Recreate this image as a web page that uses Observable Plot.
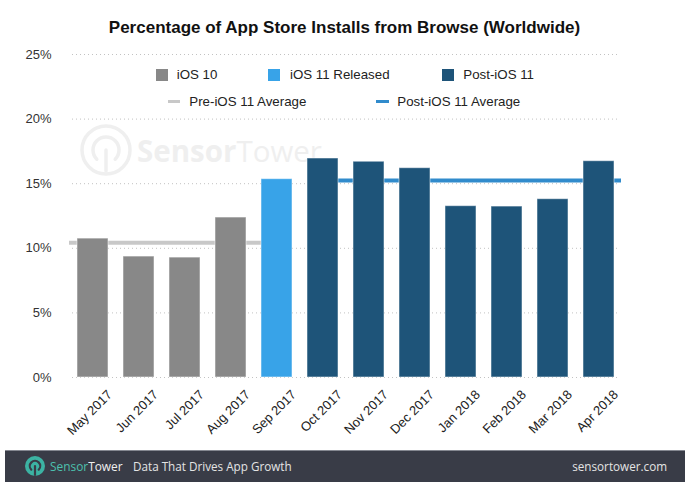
<!DOCTYPE html>
<html><head><meta charset="utf-8">
<script src="https://cdn.jsdelivr.net/npm/d3@7"></script>
<script src="https://cdn.jsdelivr.net/npm/@observablehq/plot@0.6"></script>
<style>
body{margin:0;background:#fff;font-family:"Liberation Sans",Arial,sans-serif;}
#wrap{position:relative;width:697px;height:491px;overflow:hidden;background:#fff;}
#title{position:relative;height:44px;}
#title span{position:absolute;left:0;width:689px;text-align:center;top:19px;font-size:17px;line-height:17px;font-weight:bold;color:#111;white-space:nowrap;}
#chart{position:relative;z-index:2;}
#watermark{position:absolute;left:0;top:0;z-index:1;}
#legend{position:absolute;left:0;top:0;z-index:3;font-size:13.3px;color:#222;}
#legend .it{position:absolute;white-space:nowrap;line-height:14px;}
#legend .sw{position:absolute;}
#footer{position:absolute;left:5px;top:450px;width:680px;height:31px;background:#393c47;border-top:1px solid #858891;font-family:"Open Sans",sans-serif;font-size:11.7px;color:#e4e4e4;}
#footer .t{position:absolute;top:7px;line-height:16px;white-space:nowrap;}
</style></head><body>
<div id="wrap">
  <div id="title"><span>Percentage of App Store Installs from Browse (Worldwide)</span></div>
  <svg id="watermark" width="697" height="491">
    <g fill="none" stroke="#efefef" stroke-width="3.5" stroke-linecap="round">
      <circle cx="106" cy="150" r="24"></circle>
      <path d="M96.8,159.2 A13,13 0 1 1 115.2,159.2"></path>
      <line x1="106" y1="150" x2="106" y2="171"></line>
    </g>
    <text x="137" y="162" font-family="Open Sans" font-size="29.5" fill="#efefef"><tspan font-weight="700">Sensor</tspan><tspan font-weight="400">Tower</tspan></text>
  </svg>
  <div id="chart"></div>
  <div id="legend"></div>
  <div id="footer">
    <svg width="680" height="31" style="position:absolute;left:0;top:0">
      <circle cx="30" cy="15" r="10" fill="#3cb3a3"></circle>
      <g fill="none" stroke="#393c47" stroke-width="2.2" stroke-linecap="round">
        <path d="M26.3,18.7 A5.2,5.2 0 1 1 33.7,18.7"></path>
        <line x1="30" y1="15" x2="30" y2="24"></line>
      </g>
    </svg>
    <span class="t" style="left:45px;font-size:11.9px"><span style="color:#4cc0ae">Sensor</span><span style="color:#f0f0f0">Tower</span></span>
    <span class="t" style="left:128px">Data That Drives App Growth</span>
    <span class="t" style="right:18px">sensortower.com</span>
  </div>
</div>
<script>
// ---- data ----
const months = ["May 2017","Jun 2017","Jul 2017","Aug 2017","Sep 2017","Oct 2017","Nov 2017","Dec 2017","Jan 2018","Feb 2018","Mar 2018","Apr 2018"];
const values = [10.75, 9.36, 9.28, 12.38, 15.35, 16.95, 16.7, 16.2, 13.26, 13.23, 13.8, 16.74];
const phases = ["iOS 10","iOS 10","iOS 10","iOS 10","iOS 11 Released","Post-iOS 11","Post-iOS 11","Post-iOS 11","Post-iOS 11","Post-iOS 11","Post-iOS 11","Post-iOS 11"];
const phaseNames = ["iOS 10","iOS 11 Released","Post-iOS 11"];
const phaseColors = ["#888888","#38a3e8","#1e5479"];
const avgNames = ["Pre-iOS 11 Average","Post-iOS 11 Average"];
const avgValues = [10.42, 15.25];
const avgFrom = ["May 2017","Oct 2017"];
const avgTo = ["Sep 2017","Apr 2018"];
const avgColors = ["#c8c8c8","#318bcc"];
const yTicks = [0, 5, 10, 15, 20, 25];

const data = months.map((m, i) => ({month: m, value: values[i], phase: phases[i]}));
const avgs = avgNames.map((n, i) => ({name: n, value: avgValues[i], from: avgFrom[i], to: avgTo[i]}));

const plot = Plot.plot({
  width: 697,
  height: 406,
  marginTop: 10,
  marginBottom: 73,
  marginLeft: 72,
  marginRight: 78,
  style: {fontFamily: "'Liberation Sans', Arial, sans-serif", color: "#222", background: "transparent"},
  x: {domain: months, paddingInner: 0.33, paddingOuter: 0.1, label: null},
  y: {domain: [0, 25], label: null},
  color: {domain: phaseNames, range: phaseColors},
  marks: [
    Plot.ruleY(yTicks, {stroke: "#c2c2c2", strokeDasharray: "1,3"}),
    Plot.ruleY(avgs.slice(0, 1), {y: "value", x1: "from", x2: "to", insetLeft: -8, stroke: avgColors[0], strokeWidth: 4}),
    Plot.ruleY(avgs.slice(1), {y: "value", x1: "from", x2: "to", insetRight: -7, stroke: avgColors[1], strokeWidth: 4}),
    Plot.barY(data, {x: "month", y: "value", fill: "phase", stroke: "#ffffff", strokeOpacity: 0.5, strokeWidth: 1}),
    Plot.axisY(yTicks, {tickSize: 0, tickPadding: 21, tickFormat: d => d + "%", fontSize: 13, fill: "#333"}),
    Plot.axisX({tickSize: 0, tickRotate: -45, tickPadding: 15, dx: 17, fontSize: 13, fill: "#222"})
  ]
});
document.getElementById("chart").appendChild(plot);

// ---- legend (HTML) ----
const legend = document.getElementById("legend");
const swX = [156, 268, 441.7];
const txX = [176.7, 290, 463.3];
phaseNames.forEach((n, i) => {
  const s = document.createElement("div");
  s.className = "sw";
  s.style.cssText = `left:${swX[i]}px;top:69px;width:12px;height:12px;background:${phaseColors[i]}`;
  legend.appendChild(s);
  const t = document.createElement("div");
  t.className = "it";
  t.style.cssText = `left:${txX[i]}px;top:68px`;
  t.textContent = n;
  legend.appendChild(t);
});
const lnX = [167.7, 376];
const ltX = [189.3, 397.3];
avgNames.forEach((n, i) => {
  const s = document.createElement("div");
  s.className = "sw";
  s.style.cssText = `left:${lnX[i]}px;top:100px;width:12.5px;height:3px;background:${avgColors[i]}`;
  legend.appendChild(s);
  const t = document.createElement("div");
  t.className = "it";
  t.style.cssText = `left:${ltX[i]}px;top:94.5px`;
  t.textContent = n;
  legend.appendChild(t);
});
</script>
</body></html>
